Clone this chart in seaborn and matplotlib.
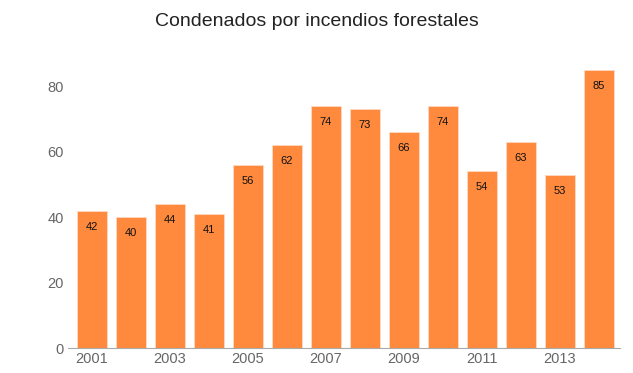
import pandas as pd
import matplotlib.pyplot as plt
import seaborn as sns

years = ['2001', '2002', '2003', '2004', '2005', '2006', '2007',
         '2008', '2009', '2010', '2011', '2012', '2013', '2014']
condenados = [42, 40, 44, 41, 56, 62, 74, 73, 66, 74, 54, 63, 53, 85]

df = pd.DataFrame({'year': years, 'value': condenados})

sns.set_style('white')
plt.rcParams['font.family'] = ['Liberation Sans', 'DejaVu Sans']

fig = plt.figure(figsize=(6.33, 3.73), dpi=100)
ax = fig.add_axes([0.107, 0.067, 0.873, 0.767])

sns.barplot(x='year', y='value', data=df, color='#FF8A3D', saturation=1,
            width=0.77, edgecolor='#FFD9C2', linewidth=0.6, ax=ax)

for i, v in enumerate(condenados):
    ax.text(i, v - 4.9, str(v), ha='center', va='center', fontsize=8, color='#111111')

ax.set_xlim(-0.61, 13.55)
ax.set_ylim(0, 87.5)
ax.set_yticks([0, 20, 40, 60, 80])
ax.set_xticks(range(len(years)))
ax.set_xticklabels([y if i % 2 == 0 else '' for i, y in enumerate(years)])
ax.tick_params(axis='both', labelsize=10.5, colors='#666666', length=0, pad=3)
ax.set_xlabel('')
ax.set_ylabel('')
for s in ['top', 'right', 'left']:
    ax.spines[s].set_visible(False)
ax.spines['bottom'].set_color('#AAAAAA')

fig.text(0.5, 0.942, 'Condenados por incendios forestales', ha='center', va='center',
         fontsize=14, color='#222222')

fig.savefig('out.png', dpi=100)
